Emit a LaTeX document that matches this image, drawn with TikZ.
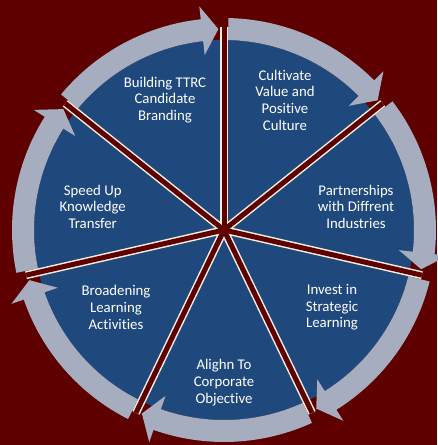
\documentclass[tikz,border=0pt]{standalone}
\usepackage{fontspec}
\setmainfont{Carlito}[Ligatures={NoCommon}]
\usetikzlibrary{calc}
\definecolor{bgred}{RGB}{94,0,0}
\definecolor{wedgeblue}{RGB}{31,73,125}
\definecolor{ringgrey}{RGB}{166,173,190}
\definecolor{spokecream}{RGB}{244,238,218}
\tikzset{
  lbl/.style={text=white, align=center, inner sep=0pt, font=\fontsize{14.8}{16.7}\selectfont},
  ringarrow/.style={fill=ringgrey},
  spokeedge/.style={draw=spokecream, line width=8pt},
  spokecore/.style={draw=bgred, line width=5pt},
}
\begin{document}
\begin{tikzpicture}[x=1pt,y=1pt]
\fill[bgred] (0,0) rectangle (437,445);
\useasboundingbox (0,0) rectangle (437,445);
\coordinate (c) at (224,215);
\fill[wedgeblue] (c) circle (190);
\foreach \k in {0,...,6} {
  \pgfmathsetmacro{\sa}{90-\k*360/7-1.2}
  \pgfmathsetmacro{\eb}{90-(\k+1)*360/7+6.3}
  \pgfmathsetmacro{\et}{90-(\k+1)*360/7+1.6}
  \fill[ringarrow] ($(c)+(\sa:212)$) arc[start angle=\sa, end angle=\eb, radius=212]
     -- ($(c)+(\eb:225)$) -- ($(c)+(\et:201)$) -- ($(c)+(\eb:176)$)
     -- ($(c)+(\eb:190)$) arc[start angle=\eb, end angle=\sa, radius=190] -- cycle;
}
\foreach \k in {0,...,6} {
  \pgfmathsetmacro{\s}{90-\k*360/7}
  \coordinate (e\k) at ($(c)+(\s:203)$);
  \draw[spokeedge] (c) -- (e\k);
}
\foreach \k in {0,...,6} {
  \draw[spokecore] (c) -- (e\k);
}
\node[lbl] (t0) at (165,345) {Building TTRC\\Candidate\\Branding};
\node[lbl] (t1) at (285,345) {Cultivate\\Value and\\Positive\\Culture};
\node[lbl] (t2) at (356,238.3) {Partnerships\\with Diffrent\\Industries};
\node[lbl] (t3) at (332,137.7) {Invest in\\Strategic\\Learning};
\node[lbl] (t4) at (224,62.3) {Alighn To\\Corporate\\Objective};
\node[lbl] (t5) at (116,137.7) {Broadening\\Learning\\Activities};
\node[lbl] (t6) at (92.7,238.3) {Speed Up\\Knowledge\\Transfer};
\end{tikzpicture}
\end{document}
